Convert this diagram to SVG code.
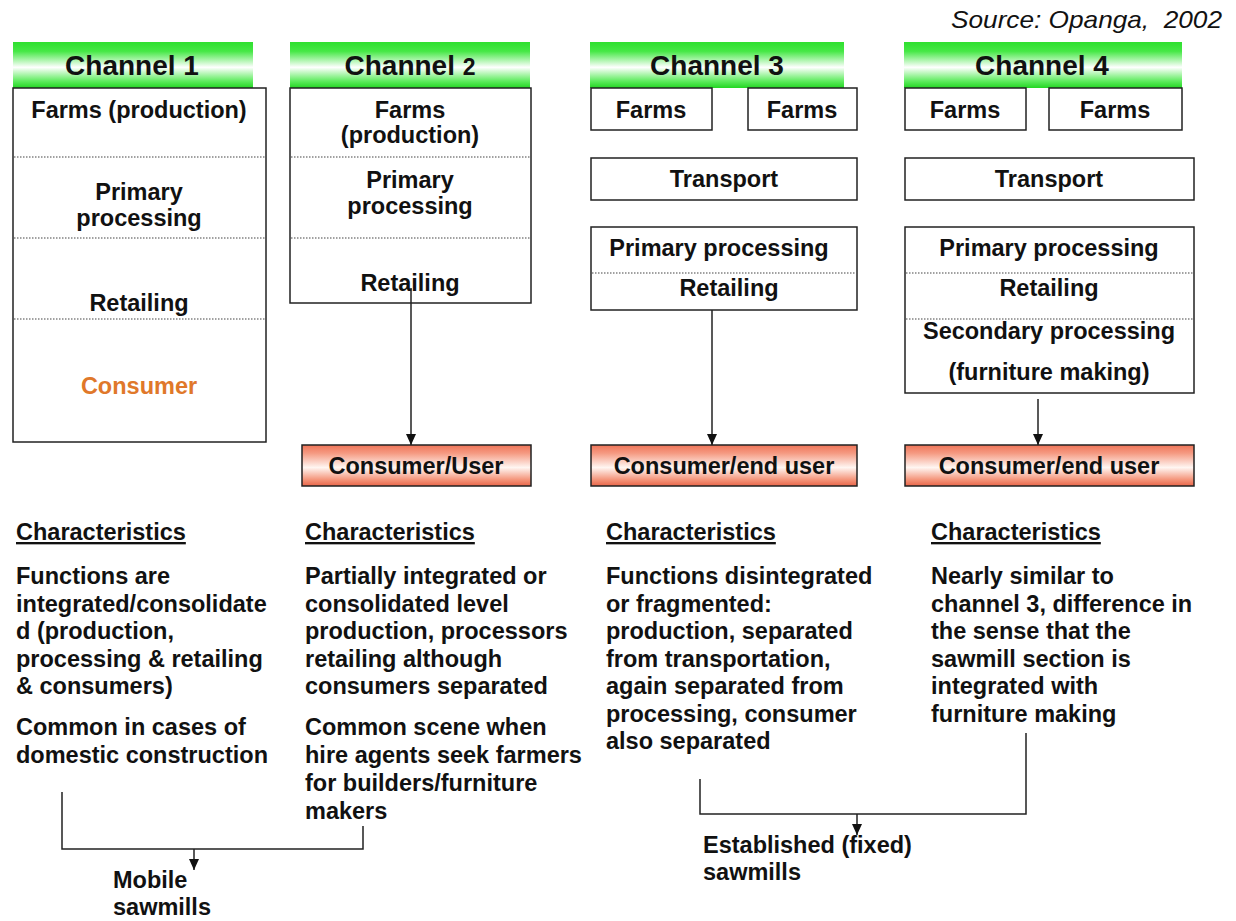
<svg xmlns="http://www.w3.org/2000/svg" width="1236" height="921" viewBox="0 0 1236 921">
<defs>
<linearGradient id="gGreen" x1="0" y1="0" x2="0" y2="1">
<stop offset="0" stop-color="#2FDF2F"/>
<stop offset="0.2" stop-color="#45E845"/>
<stop offset="0.55" stop-color="#FFFFFF"/>
<stop offset="0.85" stop-color="#5EEC5E"/>
<stop offset="1" stop-color="#22D622"/>
</linearGradient>
<linearGradient id="gRed" x1="0" y1="0" x2="0" y2="1">
<stop offset="0" stop-color="#EF7458"/>
<stop offset="0.2" stop-color="#F59A82"/>
<stop offset="0.55" stop-color="#FFF6F2"/>
<stop offset="0.85" stop-color="#F49378"/>
<stop offset="1" stop-color="#E8664A"/>
</linearGradient>
<marker id="arr" viewBox="0 0 11 10" refX="11" refY="5" markerWidth="11" markerHeight="10" markerUnits="userSpaceOnUse" orient="auto">
<path d="M0,0 L11,5 L0,10 z" fill="#111"/>
</marker>
<clipPath id="edge"><rect x="0" y="0" width="1196" height="921"/></clipPath>
<style>
text{font-family:"Liberation Sans",Arial,sans-serif;fill:#111;font-weight:bold;font-size:23.5px}
.hd{font-size:28px}
.c{text-anchor:middle}
.box{fill:#fff;stroke:#222;stroke-width:1.5}
.dot{stroke:#444;stroke-width:1.2;stroke-dasharray:1.5 1.5}
.hdr{fill:url(#gGreen)}
.cons{fill:url(#gRed);stroke:#222;stroke-width:1.5}
.ln{fill:none;stroke:#222;stroke-width:1.5}
.ch{text-decoration:underline}
</style>
</defs>
<rect width="1236" height="921" fill="#fff"/>
<text id="source" x="1222" y="28" xml:space="preserve" style="font-weight:normal;font-style:italic;font-size:24px;text-anchor:end" textLength="271" lengthAdjust="spacingAndGlyphs">Source: Opanga,  2002</text>

<g id="channel1">
<rect class="hdr" x="13" y="42" width="240" height="46"/>
<text class="hd c" x="132" y="75">Channel 1</text>
<rect class="box" x="13" y="88" width="253" height="354"/>
<line class="dot" x1="14" y1="157" x2="265" y2="157"/>
<line class="dot" x1="14" y1="238" x2="265" y2="238"/>
<line class="dot" x1="14" y1="319" x2="265" y2="319"/>
<text class="c" x="139" y="118">Farms (production)</text>
<text class="c" x="139" y="200">Primary</text>
<text class="c" x="139" y="226">processing</text>
<text class="c" x="139" y="311">Retailing</text>
<text class="c" x="139" y="394" style="fill:#E0782A">Consumer</text>
</g>

<g id="channel2">
<rect class="hdr" x="290" y="42" width="240" height="46"/>
<text class="hd c" x="410" y="75">Channel <tspan style="font-size:23px">2</tspan></text>
<rect class="box" x="290" y="88" width="241" height="215"/>
<line class="dot" x1="291" y1="157" x2="530" y2="157"/>
<line class="dot" x1="291" y1="238" x2="530" y2="238"/>
<text class="c" x="410" y="118">Farms</text>
<text class="c" x="410" y="143">(production)</text>
<text class="c" x="410" y="188">Primary</text>
<text class="c" x="410" y="214">processing</text>
<text class="c" x="410" y="291">Retailing</text>
</g>
<g id="consumer2">
<rect class="cons" x="302" y="445" width="229" height="41"/>
<text class="c" x="416" y="474">Consumer/User</text>
</g>

<g id="channel3">
<rect class="hdr" x="590" y="42" width="254" height="46"/>
<text class="hd c" x="717" y="75">Channel 3</text>
</g>
<g id="farms3a">
<rect class="box" x="591" y="88" width="121" height="42"/>
<text class="c" x="651" y="118">Farms</text>
</g>
<g id="farms3b">
<rect class="box" x="748" y="88" width="109" height="42"/>
<text class="c" x="802" y="118">Farms</text>
</g>
<g id="transport3">
<rect class="box" x="591" y="158" width="266" height="42"/>
<text class="c" x="724" y="187">Transport</text>
</g>
<g id="proc3">
<rect class="box" x="591" y="227" width="266" height="83"/>
<line class="dot" x1="592" y1="273" x2="856" y2="273"/>
<text class="c" x="719" y="256">Primary processing</text>
<text class="c" x="729" y="296">Retailing</text>
</g>
<g id="consumer3">
<rect class="cons" x="591" y="445" width="266" height="41"/>
<text class="c" x="724" y="474">Consumer/end user</text>
</g>

<g id="channel4">
<rect class="hdr" x="904" y="42" width="278" height="46"/>
<text class="hd c" x="1042" y="75">Channel 4</text>
</g>
<g id="farms4a">
<rect class="box" x="905" y="88" width="121" height="42"/>
<text class="c" x="965" y="118">Farms</text>
</g>
<g id="farms4b">
<rect class="box" x="1049" y="88" width="133" height="42"/>
<text class="c" x="1115" y="118">Farms</text>
</g>
<g id="transport4">
<rect class="box" x="905" y="158" width="289" height="42"/>
<text class="c" x="1049" y="187">Transport</text>
</g>
<g id="proc4">
<rect class="box" x="905" y="227" width="289" height="166"/>
<line class="dot" x1="906" y1="273" x2="1193" y2="273"/>
<line class="dot" x1="906" y1="319" x2="1193" y2="319"/>
<text class="c" x="1049" y="256">Primary processing</text>
<text class="c" x="1049" y="296">Retailing</text>
<text class="c" x="1049" y="339">Secondary processing</text>
<text class="c" x="1049" y="380">(furniture making)</text>
</g>
<g id="consumer4">
<rect class="cons" x="905" y="445" width="289" height="41"/>
<text class="c" x="1049" y="474">Consumer/end user</text>
</g>

<g id="char1">
<text class="ch" x="16" y="540">Characteristics</text>
<text x="16" y="584">Functions are<tspan x="16" dy="27.5">integrated/consolidate</tspan><tspan x="16" dy="27.5">d (production,</tspan><tspan x="16" dy="27.5">processing &amp; retailing</tspan><tspan x="16" dy="27.5">&amp; consumers)</tspan></text>
<text x="16" y="735">Common in cases of<tspan x="16" dy="28">domestic construction</tspan></text>
</g>
<g id="char2">
<text class="ch" x="305" y="540">Characteristics</text>
<text x="305" y="584">Partially integrated or<tspan x="305" dy="27.5">consolidated level</tspan><tspan x="305" dy="27.5">production, processors</tspan><tspan x="305" dy="27.5">retailing although</tspan><tspan x="305" dy="27.5">consumers separated</tspan></text>
<text x="305" y="735">Common scene when<tspan x="305" dy="28">hire agents seek farmers</tspan><tspan x="305" dy="28">for builders/furniture</tspan><tspan x="305" dy="27.5">makers</tspan></text>
</g>
<g id="char3">
<text class="ch" x="606" y="540">Characteristics</text>
<text x="606" y="584">Functions disintegrated<tspan x="606" dy="27.5">or fragmented:</tspan><tspan x="606" dy="27.5">production, separated</tspan><tspan x="606" dy="27.5">from transportation,</tspan><tspan x="606" dy="27.5">again separated from</tspan><tspan x="606" dy="27.5">processing, consumer</tspan><tspan x="606" dy="27.5">also separated</tspan></text>
</g>
<g id="char4" clip-path="url(#edge)">
<text class="ch" x="931" y="540">Characteristics</text>
<text x="931" y="584">Nearly similar to<tspan x="931" dy="27.5">channel 3, difference in</tspan><tspan x="931" dy="27.5">the sense that the</tspan><tspan x="931" dy="27.5">sawmill section is</tspan><tspan x="931" dy="27.5">integrated with</tspan><tspan x="931" dy="27.5">furniture making</tspan></text>
</g>

<g id="mobile">
<text x="113" y="888">Mobile<tspan x="113" dy="27">sawmills</tspan></text>
</g>
<g id="established">
<text x="703" y="853">Established (fixed)<tspan x="703" dy="27">sawmills</tspan></text>
</g>

<g id="connectors">
<line class="ln" x1="411" y1="288" x2="411" y2="445" marker-end="url(#arr)"/>
<line class="ln" x1="712" y1="310" x2="712" y2="445" marker-end="url(#arr)"/>
<line class="ln" x1="1038" y1="399" x2="1038" y2="445" marker-end="url(#arr)"/>
<path class="ln" d="M62 792 V849 H363 V826"/>
<line class="ln" x1="194" y1="849" x2="194" y2="870" marker-end="url(#arr)"/>
<path class="ln" d="M700 779 V814 H1026 V733"/>
<line class="ln" x1="857" y1="814" x2="857" y2="835" marker-end="url(#arr)"/>
</g>
</svg>
